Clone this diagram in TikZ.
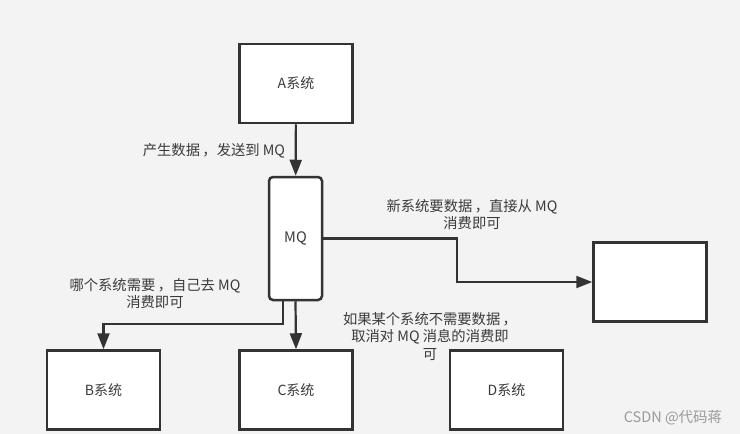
\documentclass[tikz,border=0pt]{standalone}
\usepackage{fontspec}
\setmainfont{Noto Sans CJK SC}
\usetikzlibrary{arrows.meta,positioning}
\definecolor{bg}{HTML}{F3F3F3}
\definecolor{ink}{HTML}{333333}
\definecolor{txt}{HTML}{3A3A3A}
\definecolor{mark}{HTML}{9A9A9A}
\tikzset{
  sysbox/.style={draw=ink,fill=white,line width=2.5pt,minimum width=113pt,minimum height=79pt,inner sep=0pt,text=txt,font=\fontsize{14}{16}\selectfont},
  mqbox/.style={draw=ink,fill=white,line width=2.5pt,rounded corners=4pt,minimum width=53pt,minimum height=123pt,inner sep=0pt,text=txt,font=\fontsize{14.5}{16}\selectfont},
  note/.style={text=txt,align=center,inner sep=0pt,font=\fontsize{14.3}{17.5}\selectfont},
}
\begin{document}
\begin{tikzpicture}[x=1pt,y=-1pt,line width=2.2pt,color=ink,>={Triangle[length=16pt,width=12pt]}]
	\fill[bg] (0,0) rectangle (740,434);
	\useasboundingbox (0,0) rectangle (740,434);
	\node[sysbox] (a) at (296,83.5){A系统};
	\node[mqbox] (mq) at (295.5,238.5){MQ};
	\node[sysbox] (b) at (103.5,390){B系统};
	\node[sysbox] (c) at (296,390){C系统};
	\node[sysbox] (d) at (506.5,390){D系统};
	\node[sysbox] (new) at (650,282){};
	\node[note] (n1) at (214,151){产生数据\,，发送到 MQ};
	\node[note] (n2) at (472,214.5){新系统要数据\,，直接从 MQ\\消费即可};
	\node[note] (n3) at (155,293.5){哪个系统需要\,，自己去 MQ\\消费即可};
	\node[note] (n4) at (430,336.5){如果某个系统不需要数据\,，\\取消对 MQ 消息的消费即\\可};
	\node[text=mark,inner sep=0pt,font=\fontsize{14.5}{16}\selectfont] (wm) at (673,418){CSDN @代码蒋};
	\coordinate (k) at (457,282);
	\coordinate (j) at (0,324);
	\draw[->] (a) -- (mq);
	\draw[->] (mq.east) -- (mq.east -| k) |- (new.west);
	\draw[->] ([xshift=-12.5pt]mq.south) -- ([xshift=-12.5pt]mq.south |- j) -| (b.north);
	\draw[->] (mq.south) -- (c.north);
\end{tikzpicture}
\end{document}
